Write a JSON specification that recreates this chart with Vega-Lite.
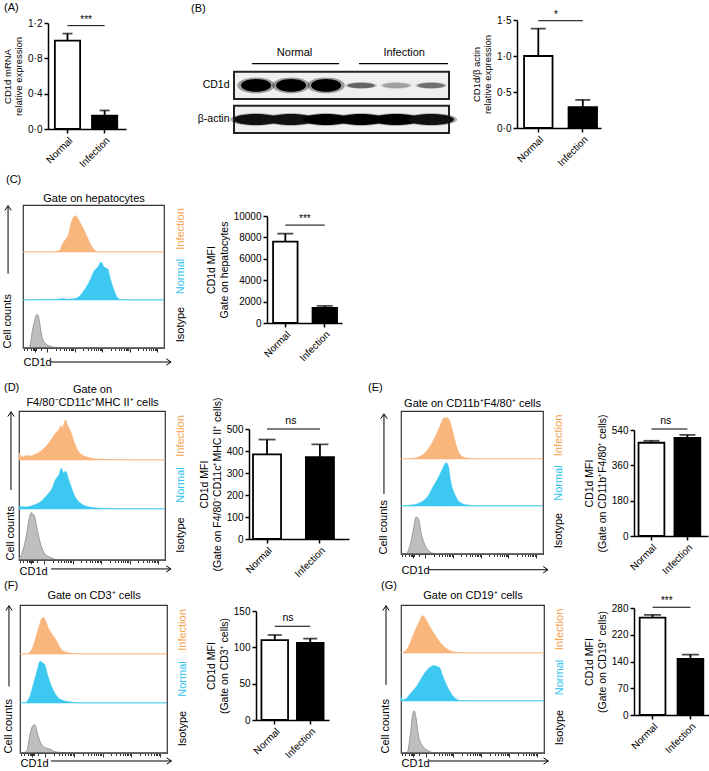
{
"$schema": "https://vega.github.io/schema/vega-lite/v6.json",
"padding": {"left": 0, "top": 1, "right": 0, "bottom": 0},
"background": "white",
"spacing": 0,
"config": {
 "font": "Liberation Sans",
 "view": {"stroke": null},
 "axis": {"grid": false, "tickCount": 60, "labelOverlap": false, "domainColor": "#000", "domainWidth": 1.5, "tickColor": "#000", "tickWidth": 1.5, "tickSize": 4, "labelFontSize": 10, "labelColor": "#000", "titleFontSize": 10.5, "titleFontWeight": "normal", "titleColor": "#000", "labelFont": "Liberation Sans", "titleFont": "Liberation Sans"},
 "title": {"fontSize": 11, "fontWeight": "normal", "anchor": "start", "frame": "group", "color": "#000", "font": "Liberation Sans"},
 "text": {"font": "Liberation Sans", "color": "#000"}
},
"vconcat": [
{"spacing": 0, "bounds": "flush", "hconcat": [
 {"width": 47, "height": 1, "data": {"values": []}, "mark": "point"},
 {
  "width": 78, "height": 109,
  "title": {"text": "(A)", "dx": -44, "offset": 2},
  "layer": [
   {"data": {"values": [{"group": "Normal", "mean": 1.0, "upper": 1.08}, {"group": "Infection", "mean": 0.15, "upper": 0.21}]},
    "layer": [
     {"mark": {"type": "bar", "stroke": "#000", "strokeWidth": 1.8},
      "encoding": {
       "x": {"field": "group", "type": "nominal", "scale": {"domain": ["Normal", "Infection"], "paddingInner": 0.32, "paddingOuter": 0.21, "align": 0.44}, "axis": {"title": null, "labelAngle": -45}},
       "y": {"field": "mean", "type": "quantitative", "scale": {"domain": [0, 1.2], "range": [109, 3], "nice": false}, "axis": {"values": [0, 0.4, 0.8, 1.2], "tickCount": 10, "labelExpr": "replace(format(datum.value, '.1f'), '.', '·')", "title": ["CD1d mRNA", "relative expression"], "titleFontSize": 9.5}},
       "fill": {"field": "group", "type": "nominal", "scale": {"domain": ["Normal", "Infection"], "range": ["#ffffff", "#000000"]}, "legend": null}}},
     {"mark": {"type": "rule", "strokeWidth": 1.8, "color": "#000"}, "encoding": {"x": {"field": "group", "type": "nominal"}, "y": {"field": "mean", "type": "quantitative"}, "y2": {"field": "upper"}}},
     {"mark": {"type": "tick", "thickness": 1.8, "size": 10, "color": "#000"}, "encoding": {"x": {"field": "group", "type": "nominal"}, "y": {"field": "upper", "type": "quantitative"}}}
    ]},
   {"data": {"values": [{"from": "Normal", "to": "Infection", "level": 1.17, "label": "***"}]},
    "layer": [
     {"mark": {"type": "rule", "strokeWidth": 1, "color": "#000"}, "encoding": {"x": {"field": "from", "type": "nominal"}, "x2": {"field": "to"}, "y": {"field": "level", "type": "quantitative"}}},
     {"mark": {"type": "text", "baseline": "bottom", "dy": -1, "fontSize": 10}, "encoding": {"x": {"field": "from", "type": "nominal", "bandPosition": 1.24}, "y": {"field": "level", "type": "quantitative"}, "text": {"field": "label"}}}
    ]}
  ]
 },
 {"width": 108, "height": 1, "data": {"values": []}, "mark": "point"},
 {
  "width": 215, "height": 113,
  "title": {"text": "(B)", "dx": -43, "offset": 6},
  "layer": [
   {"data": {"values": [{"protein": "CD1d"}, {"protein": "β-actin"}]},
    "mark": {"type": "rect", "fill": "#efefef", "stroke": "#222", "strokeWidth": 2},
    "encoding": {
     "x": {"datum": 0.37, "type": "quantitative", "scale": {"domain": [0.37, 6.51], "nice": false, "zero": false}, "axis": null},
     "x2": {"datum": 6.51},
     "y": {"field": "protein", "type": "nominal", "scale": {"domain": ["header", "CD1d", "β-actin"], "paddingInner": 0.2, "paddingOuter": 0.262, "align": 1}, "axis": {"title": null, "domain": false, "ticks": false, "labelPadding": 5, "labelFontSize": 10.5, "labelExpr": "datum.value == 'header' ? '' : datum.value"}}}},
   {"data": {"values": [
     {"protein": "CD1d", "lane": 1, "kind": "strong", "intensity": 1}, {"protein": "CD1d", "lane": 2, "kind": "strong", "intensity": 1}, {"protein": "CD1d", "lane": 3, "kind": "strong", "intensity": 1},
     {"protein": "CD1d", "lane": 4, "kind": "faint", "intensity": 0.55}, {"protein": "CD1d", "lane": 5, "kind": "faint", "intensity": 0.3}, {"protein": "CD1d", "lane": 6, "kind": "faint", "intensity": 0.5},
     {"protein": "β-actin", "lane": 1, "kind": "actin", "intensity": 0.95}, {"protein": "β-actin", "lane": 2, "kind": "actin", "intensity": 0.95}, {"protein": "β-actin", "lane": 3, "kind": "actin", "intensity": 1},
     {"protein": "β-actin", "lane": 4, "kind": "actin", "intensity": 1}, {"protein": "β-actin", "lane": 5, "kind": "actin", "intensity": 1}, {"protein": "β-actin", "lane": 6, "kind": "actin", "intensity": 0.95}]},
    "encoding": {
     "x": {"field": "lane", "type": "quantitative"},
     "y": {"field": "protein", "type": "nominal"},
     "color": {"field": "intensity", "type": "quantitative", "scale": {"domain": [0, 1], "range": ["#efefef", "#000000"]}, "legend": null}},
    "layer": [
     {"transform": [{"filter": "datum.kind == 'strong'"}], "mark": {"type": "point", "filled": true, "opacity": 0.35, "size": 1400, "shape": "M-1,0A1,0.42,0,1,0,1,0A1,0.42,0,1,0,-1,0Z"}},
     {"transform": [{"filter": "datum.kind == 'strong'"}], "mark": {"type": "point", "filled": true, "opacity": 1, "size": 900, "shape": "M-1,0A1,0.42,0,1,0,1,0A1,0.42,0,1,0,-1,0Z"}},
     {"transform": [{"filter": "datum.kind == 'faint'"}], "mark": {"type": "point", "filled": true, "opacity": 0.35, "size": 1000, "shape": "M-1,0A1,0.2,0,1,0,1,0A1,0.2,0,1,0,-1,0Z"}},
     {"transform": [{"filter": "datum.kind == 'faint'"}], "mark": {"type": "point", "filled": true, "opacity": 1, "size": 750, "shape": "M-1,0A1,0.2,0,1,0,1,0A1,0.2,0,1,0,-1,0Z"}},
     {"transform": [{"filter": "datum.kind == 'actin'"}], "mark": {"type": "point", "filled": true, "opacity": 0.35, "size": 2700, "shape": "M-1,0A1,0.24,0,1,0,1,0A1,0.24,0,1,0,-1,0Z"}},
     {"transform": [{"filter": "datum.kind == 'actin'"}], "mark": {"type": "point", "filled": true, "opacity": 1, "size": 2100, "shape": "M-1,0A1,0.24,0,1,0,1,0A1,0.24,0,1,0,-1,0Z"}}
    ]},
   {"data": {"values": [{"group": "Normal", "from": 0.88, "to": 3.37, "mid": 2.1}, {"group": "Infection", "from": 3.94, "to": 6.48, "mid": 5.23}]},
    "layer": [
     {"mark": {"type": "rule", "strokeWidth": 1.2, "color": "#000"}, "encoding": {"x": {"field": "from", "type": "quantitative"}, "x2": {"field": "to"}, "y": {"datum": "header", "type": "nominal", "bandPosition": 0.95}}},
     {"mark": {"type": "text", "fontSize": 11, "baseline": "middle"}, "encoding": {"x": {"field": "mid", "type": "quantitative"}, "y": {"datum": "header", "type": "nominal", "bandPosition": 0.55}, "text": {"field": "group"}}}
    ]}
  ]
 },
 {"width": 68, "height": 1, "data": {"values": []}, "mark": "point"},
 {
  "width": 84, "height": 108,
  "layer": [
   {"data": {"values": [{"group": "Normal", "mean": 1.0, "upper": 1.38}, {"group": "Infection", "mean": 0.29, "upper": 0.39}]},
    "layer": [
     {"mark": {"type": "bar", "stroke": "#000", "strokeWidth": 1.8},
      "encoding": {
       "x": {"field": "group", "type": "nominal", "scale": {"domain": ["Normal", "Infection"], "paddingInner": 0.36, "paddingOuter": 0.124, "align": 0.64}, "axis": {"title": null, "labelAngle": -45}},
       "y": {"field": "mean", "type": "quantitative", "scale": {"domain": [0, 1.5], "nice": false}, "axis": {"values": [0, 0.5, 1, 1.5], "tickCount": 10, "labelExpr": "replace(format(datum.value, '.1f'), '.', '·')", "title": ["CD1d/β actin", "relative expression"], "titleFontSize": 9.5}},
       "fill": {"field": "group", "type": "nominal", "scale": {"domain": ["Normal", "Infection"], "range": ["#ffffff", "#000000"]}, "legend": null}}},
     {"mark": {"type": "rule", "strokeWidth": 1.8, "color": "#000"}, "encoding": {"x": {"field": "group", "type": "nominal"}, "y": {"field": "mean", "type": "quantitative"}, "y2": {"field": "upper"}}},
     {"mark": {"type": "tick", "thickness": 1.8, "size": 15, "color": "#000"}, "encoding": {"x": {"field": "group", "type": "nominal"}, "y": {"field": "upper", "type": "quantitative"}}}
    ]},
   {"data": {"values": [{"from": "Normal", "to": "Infection", "level": 1.49, "label": "*"}]},
    "layer": [
     {"mark": {"type": "rule", "strokeWidth": 1, "color": "#000"}, "encoding": {"x": {"field": "from", "type": "nominal"}, "x2": {"field": "to"}, "y": {"field": "level", "type": "quantitative"}}},
     {"mark": {"type": "text", "baseline": "bottom", "dy": -1, "fontSize": 10}, "encoding": {"x": {"field": "from", "type": "nominal", "bandPosition": 1.12}, "y": {"field": "level", "type": "quantitative"}, "text": {"field": "label"}}}
    ]}
  ]
 },
 {"width": 1, "height": 153, "data": {"values": []}, "mark": "point"}
]},

{"spacing": 0, "bounds": "flush", "hconcat": [
 {"width": 22, "height": 1, "data": {"values": []}, "mark": "point"},
 {
  "width": 141, "height": 143,
  "view": {"stroke": "#333", "strokeWidth": 1.2},
  "title": {"text": "(C)", "dx": -17, "offset": 7},
  "resolve": {"scale": {"y": "independent"}, "axis": {"x": "independent", "y": "independent"}},
  "layer": [
   {"data": {"values": [{"cd1d": 0, "count": 0.005}, {"cd1d": 20, "count": 0.005}, {"cd1d": 26, "count": 0.03}, {"cd1d": 28, "count": 0.17}, {"cd1d": 30, "count": 0.26}, {"cd1d": 32, "count": 0.35}, {"cd1d": 34, "count": 0.6}, {"cd1d": 36, "count": 0.75}, {"cd1d": 37.6, "count": 0.77}, {"cd1d": 39, "count": 0.71}, {"cd1d": 41.6, "count": 0.57}, {"cd1d": 44.7, "count": 0.38}, {"cd1d": 47.8, "count": 0.17}, {"cd1d": 50.6, "count": 0.05}, {"cd1d": 53, "count": 0.01}, {"cd1d": 60, "count": 0.005}, {"cd1d": 100, "count": 0.005}]},
    "mark": {"type": "area", "interpolate": "monotone", "fill": "#F8B57C", "stroke": "#F8B57C", "strokeWidth": 1, "strokeOpacity": 0.55},
    "encoding": {
     "x": {"field": "cd1d", "type": "quantitative", "scale": {"domain": [0, 100], "nice": false, "zero": false}, "axis": {"orient": "top", "title": "Gate on hepatocytes", "labels": false, "ticks": false, "domain": false, "titlePadding": 2, "titleFontSize": 11}},
     "y": {"field": "count", "type": "quantitative", "scale": {"domain": [0, 1], "range": [47, 0], "nice": false}, "axis": {"orient": "right", "title": "Infection", "titleColor": "#F5A24C", "titleAngle": 270, "titleBaseline": "top", "titleFontSize": 11, "labels": false, "ticks": false, "domain": false, "titlePadding": 10}}}},
   {"data": {"values": [{"cd1d": 0, "count": 0.005}, {"cd1d": 15, "count": 0.01}, {"cd1d": 25, "count": 0.015}, {"cd1d": 28, "count": 0.03}, {"cd1d": 31, "count": 0.015}, {"cd1d": 37, "count": 0.03}, {"cd1d": 40, "count": 0.08}, {"cd1d": 44.7, "count": 0.26}, {"cd1d": 48, "count": 0.44}, {"cd1d": 50.6, "count": 0.61}, {"cd1d": 53, "count": 0.68}, {"cd1d": 55.3, "count": 0.79}, {"cd1d": 57.6, "count": 0.68}, {"cd1d": 60, "count": 0.65}, {"cd1d": 62, "count": 0.44}, {"cd1d": 64.7, "count": 0.19}, {"cd1d": 67, "count": 0.05}, {"cd1d": 69, "count": 0.01}, {"cd1d": 75, "count": 0.005}, {"cd1d": 100, "count": 0.005}]},
    "mark": {"type": "area", "interpolate": "monotone", "fill": "#3CC8F0", "stroke": "#3CC8F0", "strokeWidth": 1, "strokeOpacity": 0.55},
    "encoding": {
     "x": {"field": "cd1d", "type": "quantitative", "axis": null},
     "y": {"field": "count", "type": "quantitative", "scale": {"domain": [0, 1], "range": [95, 47], "nice": false}, "axis": {"orient": "right", "title": "Normal", "titleColor": "#2EC3EE", "titleAngle": 270, "titleBaseline": "top", "titleFontSize": 11, "labels": false, "ticks": false, "domain": false, "titlePadding": 10}}}},
   {"data": {"values": [{"cd1d": 0, "count": 0}, {"cd1d": 4, "count": 0.01}, {"cd1d": 4.7, "count": 0.02}, {"cd1d": 6.4, "count": 0.32}, {"cd1d": 8.2, "count": 0.56}, {"cd1d": 9.9, "count": 0.7}, {"cd1d": 11, "count": 0.65}, {"cd1d": 12.5, "count": 0.39}, {"cd1d": 14, "count": 0.18}, {"cd1d": 16.5, "count": 0.08}, {"cd1d": 20, "count": 0.03}, {"cd1d": 22, "count": 0.01}, {"cd1d": 30, "count": 0}, {"cd1d": 100, "count": 0}]},
    "mark": {"type": "area", "interpolate": "monotone", "fill": "#BEBEBE", "stroke": "#9A9A9A", "strokeWidth": 1},
    "encoding": {
     "x": {"field": "cd1d", "type": "quantitative", "axis": {"orient": "bottom", "values": [1, 3, 5.4, 7, 7.6, 8.2, 8.8, 9.4, 12.5, 17.2, 23.1, 26.5, 28.9, 30.8, 32.4, 33.7, 34.8, 35.8, 36.7, 42.6, 46, 48.4, 50.3, 51.9, 53.2, 54.3, 55.3, 56.2, 62.1, 65.5, 67.9, 69.8, 71.4, 72.7, 73.8, 74.8, 75.7, 81.6, 85, 87.4, 89.3, 90.9, 92.2, 93.3, 94.3, 95.2], "labels": false, "domain": false, "tickColor": "#333", "tickWidth": 1, "tickSize": {"condition": {"test": "indexof([8.2,17.2,36.7,56.2,75.7,95.2], datum.value) >= 0", "value": 4}, "value": 2.5}, "title": "CD1d", "titleAnchor": "start", "titlePadding": 4, "titleFontSize": 11}},
     "y": {"field": "count", "type": "quantitative", "scale": {"domain": [0, 1], "range": [143, 95], "nice": false}, "axis": {"orient": "left", "title": "Cell counts", "titleAnchor": "start", "labels": false, "ticks": false, "domain": false, "titlePadding": 11, "titleFontSize": 11}}}},
   {"data": {"values": [{}]},
    "mark": {"type": "rule", "color": "#333", "strokeWidth": 1},
    "encoding": {"y": {"datum": 0, "type": "quantitative", "scale": {"domain": [0, 1], "range": [143, 95], "nice": false}, "axis": {"orient": "right", "title": "Isotype", "titleAngle": 270, "titleBaseline": "top", "titleFontSize": 11, "labels": false, "ticks": false, "domain": false, "titlePadding": 10}}}},
   {"data": {"values": [{}]}, "mark": {"type": "rule", "color": "#000", "strokeWidth": 1},
    "encoding": {"x": {"datum": -10.6, "type": "quantitative", "scale": {"domain": [0, 100]}, "axis": null}, "y": {"datum": 0.52, "type": "quantitative", "scale": {"domain": [0, 1], "range": [143, 0], "nice": false}, "axis": null}, "y2": {"datum": 0.995}}},
   {"data": {"values": [{}]}, "mark": {"type": "point", "shape": "M-1,1.5L0,0L1,1.5", "filled": false, "stroke": "#000", "strokeWidth": 1, "size": 40, "opacity": 1},
    "encoding": {"x": {"datum": -10.6, "type": "quantitative", "scale": {"domain": [0, 100]}, "axis": null}, "y": {"datum": 0.995, "type": "quantitative", "scale": {"domain": [0, 1], "range": [143, 0], "nice": false}, "axis": null}}},
   {"data": {"values": [{}]}, "mark": {"type": "rule", "color": "#000", "strokeWidth": 1},
    "encoding": {"x": {"datum": 19.9, "type": "quantitative", "scale": {"domain": [0, 100]}, "axis": null}, "x2": {"datum": 105}, "y": {"datum": -0.098, "type": "quantitative", "scale": {"domain": [0, 1], "range": [143, 0], "nice": false}, "axis": null}}},
   {"data": {"values": [{}]}, "mark": {"type": "point", "shape": "M-1.5,-1L0,0L-1.5,1", "filled": false, "stroke": "#000", "strokeWidth": 1, "size": 40, "opacity": 1},
    "encoding": {"x": {"datum": 105, "type": "quantitative", "scale": {"domain": [0, 100]}, "axis": null}, "y": {"datum": -0.098, "type": "quantitative", "scale": {"domain": [0, 1], "range": [143, 0], "nice": false}, "axis": null}}}
  ]
 },
 {"width": 103, "height": 1, "data": {"values": []}, "mark": "point"},
 {
  "width": 75, "height": 118,
  "layer": [
   {"data": {"values": [{"group": "Normal", "mean": 7600, "upper": 8350}, {"group": "Infection", "mean": 1400, "upper": 1600}]},
    "layer": [
     {"mark": {"type": "bar", "stroke": "#000", "strokeWidth": 1.8},
      "encoding": {
       "x": {"field": "group", "type": "nominal", "scale": {"domain": ["Normal", "Infection"], "paddingInner": 0.38, "paddingOuter": 0.14, "align": 0.55}, "axis": {"title": null, "labelAngle": -45}},
       "y": {"field": "mean", "type": "quantitative", "scale": {"domain": [0, 10000], "range": [118, 11], "nice": false}, "axis": {"values": [0, 2000, 4000, 6000, 8000, 10000], "tickCount": 10, "format": "d", "title": ["CD1d MFI", "Gate on hepatocytes"]}},
       "fill": {"field": "group", "type": "nominal", "scale": {"domain": ["Normal", "Infection"], "range": ["#ffffff", "#000000"]}, "legend": null}}},
     {"mark": {"type": "rule", "strokeWidth": 1.8, "color": "#000"}, "encoding": {"x": {"field": "group", "type": "nominal"}, "y": {"field": "mean", "type": "quantitative"}, "y2": {"field": "upper"}}},
     {"mark": {"type": "tick", "thickness": 1.8, "size": 16, "color": "#000"}, "encoding": {"x": {"field": "group", "type": "nominal"}, "y": {"field": "upper", "type": "quantitative"}}}
    ]},
   {"data": {"values": [{"from": "Normal", "to": "Infection", "level": 9150, "label": "***"}]},
    "layer": [
     {"mark": {"type": "rule", "strokeWidth": 1, "color": "#000"}, "encoding": {"x": {"field": "from", "type": "nominal"}, "x2": {"field": "to"}, "y": {"field": "level", "type": "quantitative"}}},
     {"mark": {"type": "text", "baseline": "bottom", "dy": -1, "fontSize": 10}, "encoding": {"x": {"field": "from", "type": "nominal", "bandPosition": 1.3}, "y": {"field": "level", "type": "quantitative"}, "text": {"field": "label"}}}
    ]}
  ]
 },
 {"width": 1, "height": 176, "data": {"values": []}, "mark": "point"}
]},

{"spacing": 0, "bounds": "flush", "hconcat": [
 {"width": 18, "height": 1, "data": {"values": []}, "mark": "point"},
 {
  "width": 146, "height": 149,
  "view": {"stroke": "#333", "strokeWidth": 1.2},
  "title": {"text": "(D)", "dx": -15, "dy": 14},
  "resolve": {"scale": {"y": "independent"}, "axis": {"x": "independent", "y": "independent"}},
  "layer": [
   {"data": {"values": [{"cd1d": 0, "count": 0.15}, {"cd1d": 2.3, "count": 0.06}, {"cd1d": 5, "count": 0.09}, {"cd1d": 8, "count": 0.08}, {"cd1d": 10, "count": 0.1}, {"cd1d": 14.8, "count": 0.18}, {"cd1d": 19.4, "count": 0.31}, {"cd1d": 22.8, "count": 0.45}, {"cd1d": 25, "count": 0.55}, {"cd1d": 27.4, "count": 0.62}, {"cd1d": 28.5, "count": 0.7}, {"cd1d": 29.7, "count": 0.66}, {"cd1d": 31, "count": 0.76}, {"cd1d": 32, "count": 0.82}, {"cd1d": 33, "count": 0.73}, {"cd1d": 35.4, "count": 0.58}, {"cd1d": 37.7, "count": 0.38}, {"cd1d": 40, "count": 0.21}, {"cd1d": 43.4, "count": 0.1}, {"cd1d": 48, "count": 0.05}, {"cd1d": 53.7, "count": 0.02}, {"cd1d": 67, "count": 0.01}, {"cd1d": 100, "count": 0.005}]},
    "mark": {"type": "area", "interpolate": "monotone", "fill": "#F8B57C", "stroke": "#F8B57C", "strokeWidth": 1, "strokeOpacity": 0.55},
    "encoding": {
     "x": {"field": "cd1d", "type": "quantitative", "scale": {"domain": [0, 100], "nice": false, "zero": false}, "axis": {"orient": "top", "title": ["Gate on", "F4/80⁻CD11c⁺MHC II⁺ cells"], "labels": false, "ticks": false, "domain": false, "titlePadding": 4, "titleFontSize": 11}},
     "y": {"field": "count", "type": "quantitative", "scale": {"domain": [0, 1], "range": [49, 0], "nice": false}, "axis": {"orient": "right", "title": "Infection", "titleColor": "#F5A24C", "titleAngle": 270, "titleBaseline": "top", "titleFontSize": 11, "labels": false, "ticks": false, "domain": false, "titlePadding": 9}}}},
   {"data": {"values": [{"cd1d": 0, "count": 0.05}, {"cd1d": 5, "count": 0.04}, {"cd1d": 10, "count": 0.08}, {"cd1d": 14.8, "count": 0.15}, {"cd1d": 19.4, "count": 0.29}, {"cd1d": 22.8, "count": 0.43}, {"cd1d": 25, "count": 0.6}, {"cd1d": 27.4, "count": 0.7}, {"cd1d": 29, "count": 0.83}, {"cd1d": 30.4, "count": 0.74}, {"cd1d": 32, "count": 0.77}, {"cd1d": 34, "count": 0.6}, {"cd1d": 36.5, "count": 0.39}, {"cd1d": 38.8, "count": 0.23}, {"cd1d": 42, "count": 0.12}, {"cd1d": 46.8, "count": 0.05}, {"cd1d": 53.7, "count": 0.02}, {"cd1d": 60.5, "count": 0.01}, {"cd1d": 100, "count": 0.005}]},
    "mark": {"type": "area", "interpolate": "monotone", "fill": "#3CC8F0", "stroke": "#3CC8F0", "strokeWidth": 1, "strokeOpacity": 0.55},
    "encoding": {
     "x": {"field": "cd1d", "type": "quantitative", "axis": null},
     "y": {"field": "count", "type": "quantitative", "scale": {"domain": [0, 1], "range": [98, 49], "nice": false}, "axis": {"orient": "right", "title": "Normal", "titleColor": "#2EC3EE", "titleAngle": 270, "titleBaseline": "top", "titleFontSize": 11, "labels": false, "ticks": false, "domain": false, "titlePadding": 9}}}},
   {"data": {"values": [{"cd1d": 0, "count": 0.02}, {"cd1d": 2.3, "count": 0.15}, {"cd1d": 4.6, "count": 0.41}, {"cd1d": 6.8, "count": 0.78}, {"cd1d": 8.4, "count": 0.93}, {"cd1d": 9.2, "count": 0.91}, {"cd1d": 10.3, "count": 0.88}, {"cd1d": 12.6, "count": 0.58}, {"cd1d": 14.8, "count": 0.31}, {"cd1d": 18, "count": 0.11}, {"cd1d": 21.7, "count": 0.05}, {"cd1d": 25, "count": 0.01}, {"cd1d": 30, "count": 0}, {"cd1d": 100, "count": 0}]},
    "mark": {"type": "area", "interpolate": "monotone", "fill": "#BEBEBE", "stroke": "#9A9A9A", "strokeWidth": 1},
    "encoding": {
     "x": {"field": "cd1d", "type": "quantitative", "axis": {"orient": "bottom", "values": [1, 3, 5.4, 7, 7.6, 8.2, 8.8, 9.4, 12.5, 17.2, 23.1, 26.5, 28.9, 30.8, 32.4, 33.7, 34.8, 35.8, 36.7, 42.6, 46, 48.4, 50.3, 51.9, 53.2, 54.3, 55.3, 56.2, 62.1, 65.5, 67.9, 69.8, 71.4, 72.7, 73.8, 74.8, 75.7, 81.6, 85, 87.4, 89.3, 90.9, 92.2, 93.3, 94.3, 95.2], "labels": false, "domain": false, "tickColor": "#333", "tickWidth": 1, "tickSize": {"condition": {"test": "indexof([8.2,17.2,36.7,56.2,75.7,95.2], datum.value) >= 0", "value": 4}, "value": 2.5}, "title": "CD1d", "titleAnchor": "start", "titlePadding": 1, "titleFontSize": 11}},
     "y": {"field": "count", "type": "quantitative", "scale": {"domain": [0, 1], "range": [149, 98], "nice": false}, "axis": {"orient": "left", "title": "Cell counts", "titleAnchor": "start", "labels": false, "ticks": false, "domain": false, "titlePadding": 4, "titleFontSize": 11}}}},
   {"data": {"values": [{}]},
    "mark": {"type": "rule", "color": "#333", "strokeWidth": 1},
    "encoding": {"y": {"datum": 0, "type": "quantitative", "scale": {"domain": [0, 1], "range": [149, 98], "nice": false}, "axis": {"orient": "right", "title": "Isotype", "titleAngle": 270, "titleBaseline": "top", "titleFontSize": 11, "labels": false, "ticks": false, "domain": false, "titlePadding": 9}}}},
   {"data": {"values": [{}]}, "mark": {"type": "rule", "color": "#000", "strokeWidth": 1},
    "encoding": {"x": {"datum": -5.5, "type": "quantitative", "scale": {"domain": [0, 100]}, "axis": null}, "y": {"datum": 0.47, "type": "quantitative", "scale": {"domain": [0, 1], "range": [149, 0], "nice": false}, "axis": null}, "y2": {"datum": 0.995}}},
   {"data": {"values": [{}]}, "mark": {"type": "point", "shape": "M-1,1.5L0,0L1,1.5", "filled": false, "stroke": "#000", "strokeWidth": 1, "size": 40, "opacity": 1},
    "encoding": {"x": {"datum": -5.5, "type": "quantitative", "scale": {"domain": [0, 100]}, "axis": null}, "y": {"datum": 0.995, "type": "quantitative", "scale": {"domain": [0, 1], "range": [149, 0], "nice": false}, "axis": null}}},
   {"data": {"values": [{}]}, "mark": {"type": "rule", "color": "#000", "strokeWidth": 1},
    "encoding": {"x": {"datum": 22, "type": "quantitative", "scale": {"domain": [0, 100]}, "axis": null}, "x2": {"datum": 104}, "y": {"datum": -0.06, "type": "quantitative", "scale": {"domain": [0, 1], "range": [149, 0], "nice": false}, "axis": null}}},
   {"data": {"values": [{}]}, "mark": {"type": "point", "shape": "M-1.5,-1L0,0L-1.5,1", "filled": false, "stroke": "#000", "strokeWidth": 1, "size": 40, "opacity": 1},
    "encoding": {"x": {"datum": 104, "type": "quantitative", "scale": {"domain": [0, 100]}, "axis": null}, "y": {"datum": -0.06, "type": "quantitative", "scale": {"domain": [0, 1], "range": [149, 0], "nice": false}, "axis": null}}}
  ]
 },
 {"width": 84, "height": 1, "data": {"values": []}, "mark": "point"},
 {
  "width": 100, "height": 128,
  "layer": [
   {"data": {"values": [{"group": "Normal", "mean": 385, "upper": 452}, {"group": "Infection", "mean": 372, "upper": 430}]},
    "layer": [
     {"mark": {"type": "bar", "stroke": "#000", "strokeWidth": 1.8},
      "encoding": {
       "x": {"field": "group", "type": "nominal", "scale": {"domain": ["Normal", "Infection"], "paddingInner": 0.47, "paddingOuter": 0.18, "align": 0.21}, "axis": {"title": null, "labelAngle": -45}},
       "y": {"field": "mean", "type": "quantitative", "scale": {"domain": [0, 500], "range": [128, 18], "nice": false}, "axis": {"values": [0, 100, 200, 300, 400, 500], "tickCount": 10, "title": ["CD1d MFI", "(Gate on F4/80⁻CD11c⁺MHC II⁺ cells)"]}},
       "fill": {"field": "group", "type": "nominal", "scale": {"domain": ["Normal", "Infection"], "range": ["#ffffff", "#000000"]}, "legend": null}}},
     {"mark": {"type": "rule", "strokeWidth": 1.8, "color": "#000"}, "encoding": {"x": {"field": "group", "type": "nominal"}, "y": {"field": "mean", "type": "quantitative"}, "y2": {"field": "upper"}}},
     {"mark": {"type": "tick", "thickness": 1.8, "size": 17, "color": "#000"}, "encoding": {"x": {"field": "group", "type": "nominal"}, "y": {"field": "upper", "type": "quantitative"}}}
    ]},
   {"data": {"values": [{"from": "Normal", "to": "Infection", "level": 500, "label": "ns"}]},
    "layer": [
     {"mark": {"type": "rule", "strokeWidth": 1, "color": "#000"}, "encoding": {"x": {"field": "from", "type": "nominal"}, "x2": {"field": "to"}, "y": {"field": "level", "type": "quantitative"}}},
     {"mark": {"type": "text", "baseline": "bottom", "dy": -3, "fontSize": 10.5}, "encoding": {"x": {"field": "from", "type": "nominal", "bandPosition": 1.35}, "y": {"field": "level", "type": "quantitative"}, "text": {"field": "label"}}}
    ]}
  ]
 },
 {"width": 52, "height": 1, "data": {"values": []}, "mark": "point"},
 {
  "width": 142, "height": 143,
  "view": {"stroke": "#333", "strokeWidth": 1.2},
  "title": {"text": "(E)", "dx": -33, "offset": 4},
  "resolve": {"scale": {"y": "independent"}, "axis": {"x": "independent", "y": "independent"}},
  "layer": [
   {"data": {"values": [{"cd1d": 0, "count": 0.005}, {"cd1d": 7, "count": 0.01}, {"cd1d": 13, "count": 0.05}, {"cd1d": 17.6, "count": 0.15}, {"cd1d": 21, "count": 0.29}, {"cd1d": 24.7, "count": 0.5}, {"cd1d": 27.8, "count": 0.71}, {"cd1d": 30, "count": 0.85}, {"cd1d": 32.5, "count": 0.86}, {"cd1d": 34, "count": 0.81}, {"cd1d": 36.5, "count": 0.57}, {"cd1d": 38.8, "count": 0.29}, {"cd1d": 41, "count": 0.12}, {"cd1d": 44.7, "count": 0.03}, {"cd1d": 50, "count": 0.01}, {"cd1d": 56, "count": 0.005}, {"cd1d": 100, "count": 0.005}]},
    "mark": {"type": "area", "interpolate": "monotone", "fill": "#F8B57C", "stroke": "#F8B57C", "strokeWidth": 1, "strokeOpacity": 0.55},
    "encoding": {
     "x": {"field": "cd1d", "type": "quantitative", "scale": {"domain": [0, 100], "nice": false, "zero": false}, "axis": {"orient": "top", "title": "Gate on CD11b⁺F4/80⁺ cells", "labels": false, "ticks": false, "domain": false, "titlePadding": 3, "titleFontSize": 11}},
     "y": {"field": "count", "type": "quantitative", "scale": {"domain": [0, 1], "range": [48, 0], "nice": false}, "axis": {"orient": "right", "title": "Infection", "titleColor": "#F5A24C", "titleAngle": 270, "titleBaseline": "top", "titleFontSize": 11, "labels": false, "ticks": false, "domain": false, "titlePadding": 9}}}},
   {"data": {"values": [{"cd1d": 0, "count": 0.005}, {"cd1d": 7, "count": 0.02}, {"cd1d": 14, "count": 0.08}, {"cd1d": 18.8, "count": 0.2}, {"cd1d": 22, "count": 0.38}, {"cd1d": 26, "count": 0.59}, {"cd1d": 29.4, "count": 0.8}, {"cd1d": 31.8, "count": 0.92}, {"cd1d": 33.4, "count": 0.84}, {"cd1d": 35, "count": 0.52}, {"cd1d": 37.6, "count": 0.27}, {"cd1d": 41, "count": 0.09}, {"cd1d": 47, "count": 0.02}, {"cd1d": 55, "count": 0.005}, {"cd1d": 100, "count": 0.005}]},
    "mark": {"type": "area", "interpolate": "monotone", "fill": "#3CC8F0", "stroke": "#3CC8F0", "strokeWidth": 1, "strokeOpacity": 0.55},
    "encoding": {
     "x": {"field": "cd1d", "type": "quantitative", "axis": null},
     "y": {"field": "count", "type": "quantitative", "scale": {"domain": [0, 1], "range": [95, 48], "nice": false}, "axis": {"orient": "right", "title": "Normal", "titleColor": "#2EC3EE", "titleAngle": 270, "titleBaseline": "top", "titleFontSize": 11, "labels": false, "ticks": false, "domain": false, "titlePadding": 9}}}},
   {"data": {"values": [{"cd1d": 0, "count": 0}, {"cd1d": 4, "count": 0.01}, {"cd1d": 4.7, "count": 0.04}, {"cd1d": 7, "count": 0.25}, {"cd1d": 9, "count": 0.56}, {"cd1d": 10.6, "count": 0.77}, {"cd1d": 12.2, "count": 0.74}, {"cd1d": 14, "count": 0.46}, {"cd1d": 16.5, "count": 0.21}, {"cd1d": 18.8, "count": 0.09}, {"cd1d": 22, "count": 0.02}, {"cd1d": 26, "count": 0}, {"cd1d": 100, "count": 0}]},
    "mark": {"type": "area", "interpolate": "monotone", "fill": "#BEBEBE", "stroke": "#9A9A9A", "strokeWidth": 1},
    "encoding": {
     "x": {"field": "cd1d", "type": "quantitative", "axis": {"orient": "bottom", "values": [1, 3, 5.4, 7, 7.6, 8.2, 8.8, 9.4, 12.5, 17.2, 23.1, 26.5, 28.9, 30.8, 32.4, 33.7, 34.8, 35.8, 36.7, 42.6, 46, 48.4, 50.3, 51.9, 53.2, 54.3, 55.3, 56.2, 62.1, 65.5, 67.9, 69.8, 71.4, 72.7, 73.8, 74.8, 75.7, 81.6, 85, 87.4, 89.3, 90.9, 92.2, 93.3, 94.3, 95.2], "labels": false, "domain": false, "tickColor": "#333", "tickWidth": 1, "tickSize": {"condition": {"test": "indexof([8.2,17.2,36.7,56.2,75.7,95.2], datum.value) >= 0", "value": 4}, "value": 2.5}, "title": "CD1d", "titleAnchor": "start", "titlePadding": 6, "titleFontSize": 11}},
     "y": {"field": "count", "type": "quantitative", "scale": {"domain": [0, 1], "range": [143, 95], "nice": false}, "axis": {"orient": "left", "title": "Cell counts", "titleAnchor": "start", "labels": false, "ticks": false, "domain": false, "titlePadding": 13, "titleFontSize": 11}}}},
   {"data": {"values": [{}]},
    "mark": {"type": "rule", "color": "#333", "strokeWidth": 1},
    "encoding": {"y": {"datum": 0, "type": "quantitative", "scale": {"domain": [0, 1], "range": [143, 95], "nice": false}, "axis": {"orient": "right", "title": "Isotype", "titleAngle": 270, "titleBaseline": "top", "titleFontSize": 11, "labels": false, "ticks": false, "domain": false, "titlePadding": 9}}}},
   {"data": {"values": [{}]}, "mark": {"type": "rule", "color": "#000", "strokeWidth": 1},
    "encoding": {"x": {"datum": -12, "type": "quantitative", "scale": {"domain": [0, 100]}, "axis": null}, "y": {"datum": 0.42, "type": "quantitative", "scale": {"domain": [0, 1], "range": [143, 0], "nice": false}, "axis": null}, "y2": {"datum": 0.98}}},
   {"data": {"values": [{}]}, "mark": {"type": "point", "shape": "M-1,1.5L0,0L1,1.5", "filled": false, "stroke": "#000", "strokeWidth": 1, "size": 40, "opacity": 1},
    "encoding": {"x": {"datum": -12, "type": "quantitative", "scale": {"domain": [0, 100]}, "axis": null}, "y": {"datum": 0.98, "type": "quantitative", "scale": {"domain": [0, 1], "range": [143, 0], "nice": false}, "axis": null}}},
   {"data": {"values": [{}]}, "mark": {"type": "rule", "color": "#000", "strokeWidth": 1},
    "encoding": {"x": {"datum": 19.7, "type": "quantitative", "scale": {"domain": [0, 100]}, "axis": null}, "x2": {"datum": 103.5}, "y": {"datum": -0.11, "type": "quantitative", "scale": {"domain": [0, 1], "range": [143, 0], "nice": false}, "axis": null}}},
   {"data": {"values": [{}]}, "mark": {"type": "point", "shape": "M-1.5,-1L0,0L-1.5,1", "filled": false, "stroke": "#000", "strokeWidth": 1, "size": 40, "opacity": 1},
    "encoding": {"x": {"datum": 103.5, "type": "quantitative", "scale": {"domain": [0, 100]}, "axis": null}, "y": {"datum": -0.11, "type": "quantitative", "scale": {"domain": [0, 1], "range": [143, 0], "nice": false}, "axis": null}}}
  ]
 },
 {"width": 91, "height": 1, "data": {"values": []}, "mark": "point"},
 {
  "width": 74, "height": 125,
  "layer": [
   {"data": {"values": [{"group": "Normal", "mean": 475, "upper": 485}, {"group": "Infection", "mean": 500, "upper": 515}]},
    "layer": [
     {"mark": {"type": "bar", "stroke": "#000", "strokeWidth": 1.8},
      "encoding": {
       "x": {"field": "group", "type": "nominal", "scale": {"domain": ["Normal", "Infection"], "paddingInner": 0.28, "paddingOuter": 0.17, "align": 0.37}, "axis": {"title": null, "labelAngle": -45}},
       "y": {"field": "mean", "type": "quantitative", "scale": {"domain": [0, 540], "range": [125, 19], "nice": false}, "axis": {"values": [0, 180, 360, 540], "tickCount": 10, "title": ["CD1d MFI", "(Gate on  CD11b⁺F4/80⁺ cells)"]}},
       "fill": {"field": "group", "type": "nominal", "scale": {"domain": ["Normal", "Infection"], "range": ["#ffffff", "#231815"]}, "legend": null}}},
     {"mark": {"type": "rule", "strokeWidth": 1.8, "color": "#000"}, "encoding": {"x": {"field": "group", "type": "nominal"}, "y": {"field": "mean", "type": "quantitative"}, "y2": {"field": "upper"}}},
     {"mark": {"type": "tick", "thickness": 1.8, "size": 16, "color": "#000"}, "encoding": {"x": {"field": "group", "type": "nominal"}, "y": {"field": "upper", "type": "quantitative"}}}
    ]},
   {"data": {"values": [{"from": "Normal", "to": "Infection", "level": 545, "label": "ns"}]},
    "layer": [
     {"mark": {"type": "rule", "strokeWidth": 1, "color": "#000"}, "encoding": {"x": {"field": "from", "type": "nominal"}, "x2": {"field": "to"}, "y": {"field": "level", "type": "quantitative"}}},
     {"mark": {"type": "text", "baseline": "bottom", "dy": -3, "fontSize": 10.5}, "encoding": {"x": {"field": "from", "type": "nominal", "bandPosition": 1.05}, "y": {"field": "level", "type": "quantitative"}, "text": {"field": "label"}}}
    ]}
  ]
 },
 {"width": 1, "height": 168, "data": {"values": []}, "mark": "point"}
]},

{"spacing": 0, "bounds": "flush", "hconcat": [
 {"width": 19, "height": 1, "data": {"values": []}, "mark": "point"},
 {
  "width": 147, "height": 148,
  "view": {"stroke": "#333", "strokeWidth": 1.2},
  "title": {"text": "(F)", "dx": -16, "dy": 6},
  "resolve": {"scale": {"y": "independent"}, "axis": {"x": "independent", "y": "independent"}},
  "layer": [
   {"data": {"values": [{"cd1d": 0, "count": 0.005}, {"cd1d": 5, "count": 0.005}, {"cd1d": 6.2, "count": 0.02}, {"cd1d": 8.4, "count": 0.12}, {"cd1d": 10.7, "count": 0.33}, {"cd1d": 13, "count": 0.57}, {"cd1d": 14.6, "count": 0.71}, {"cd1d": 16, "count": 0.75}, {"cd1d": 17.5, "count": 0.67}, {"cd1d": 19.8, "count": 0.5}, {"cd1d": 22, "count": 0.4}, {"cd1d": 24.4, "count": 0.29}, {"cd1d": 26.7, "count": 0.16}, {"cd1d": 30, "count": 0.05}, {"cd1d": 37, "count": 0.01}, {"cd1d": 45, "count": 0.005}, {"cd1d": 100, "count": 0.005}]},
    "mark": {"type": "area", "interpolate": "monotone", "fill": "#F8B57C", "stroke": "#F8B57C", "strokeWidth": 1, "strokeOpacity": 0.55},
    "encoding": {
     "x": {"field": "cd1d", "type": "quantitative", "scale": {"domain": [0, 100], "nice": false, "zero": false}, "axis": {"orient": "top", "title": "Gate on CD3⁺ cells", "labels": false, "ticks": false, "domain": false, "titlePadding": 5, "titleFontSize": 11}},
     "y": {"field": "count", "type": "quantitative", "scale": {"domain": [0, 1], "range": [49, 0], "nice": false}, "axis": {"orient": "right", "title": "Infection", "titleColor": "#F5A24C", "titleAngle": 270, "titleBaseline": "top", "titleFontSize": 11, "labels": false, "ticks": false, "domain": false, "titlePadding": 9}}}},
   {"data": {"values": [{"cd1d": 0, "count": 0.005}, {"cd1d": 3.9, "count": 0.01}, {"cd1d": 6.2, "count": 0.1}, {"cd1d": 9.6, "count": 0.44}, {"cd1d": 11.8, "count": 0.68}, {"cd1d": 13.7, "count": 0.85}, {"cd1d": 15.3, "count": 0.82}, {"cd1d": 16.9, "count": 0.78}, {"cd1d": 18.7, "count": 0.58}, {"cd1d": 21, "count": 0.37}, {"cd1d": 24.4, "count": 0.17}, {"cd1d": 27.8, "count": 0.07}, {"cd1d": 34.6, "count": 0.02}, {"cd1d": 40, "count": 0.005}, {"cd1d": 100, "count": 0.005}]},
    "mark": {"type": "area", "interpolate": "monotone", "fill": "#3CC8F0", "stroke": "#3CC8F0", "strokeWidth": 1, "strokeOpacity": 0.55},
    "encoding": {
     "x": {"field": "cd1d", "type": "quantitative", "axis": null},
     "y": {"field": "count", "type": "quantitative", "scale": {"domain": [0, 1], "range": [98, 49], "nice": false}, "axis": {"orient": "right", "title": "Normal", "titleColor": "#2EC3EE", "titleAngle": 270, "titleBaseline": "top", "titleFontSize": 11, "labels": false, "ticks": false, "domain": false, "titlePadding": 9}}}},
   {"data": {"values": [{"cd1d": 0, "count": 0}, {"cd1d": 4, "count": 0.02}, {"cd1d": 5, "count": 0.07}, {"cd1d": 6.8, "count": 0.37}, {"cd1d": 8.4, "count": 0.53}, {"cd1d": 10, "count": 0.57}, {"cd1d": 11.8, "count": 0.4}, {"cd1d": 14, "count": 0.2}, {"cd1d": 17.5, "count": 0.1}, {"cd1d": 21, "count": 0.07}, {"cd1d": 23, "count": 0.03}, {"cd1d": 28, "count": 0.01}, {"cd1d": 35, "count": 0}, {"cd1d": 100, "count": 0}]},
    "mark": {"type": "area", "interpolate": "monotone", "fill": "#BEBEBE", "stroke": "#9A9A9A", "strokeWidth": 1},
    "encoding": {
     "x": {"field": "cd1d", "type": "quantitative", "axis": {"orient": "bottom", "values": [1, 3, 5.4, 7, 7.6, 8.2, 8.8, 9.4, 12.5, 17.2, 23.1, 26.5, 28.9, 30.8, 32.4, 33.7, 34.8, 35.8, 36.7, 42.6, 46, 48.4, 50.3, 51.9, 53.2, 54.3, 55.3, 56.2, 62.1, 65.5, 67.9, 69.8, 71.4, 72.7, 73.8, 74.8, 75.7, 81.6, 85, 87.4, 89.3, 90.9, 92.2, 93.3, 94.3, 95.2], "labels": false, "domain": false, "tickColor": "#333", "tickWidth": 1, "tickSize": {"condition": {"test": "indexof([8.2,17.2,36.7,56.2,75.7,95.2], datum.value) >= 0", "value": 4}, "value": 2.5}, "title": "CD1d", "titleAnchor": "start", "titlePadding": 0, "titleFontSize": 11}},
     "y": {"field": "count", "type": "quantitative", "scale": {"domain": [0, 1], "range": [148, 98], "nice": false}, "axis": {"orient": "left", "title": "Cell counts", "titleAnchor": "start", "labels": false, "ticks": false, "domain": false, "titlePadding": 7, "titleFontSize": 11}}}},
   {"data": {"values": [{}]},
    "mark": {"type": "rule", "color": "#333", "strokeWidth": 1},
    "encoding": {"y": {"datum": 0, "type": "quantitative", "scale": {"domain": [0, 1], "range": [148, 98], "nice": false}, "axis": {"orient": "right", "title": "Isotype", "titleAngle": 270, "titleBaseline": "top", "titleFontSize": 11, "labels": false, "ticks": false, "domain": false, "titlePadding": 9}}}},
   {"data": {"values": [{}]}, "mark": {"type": "rule", "color": "#000", "strokeWidth": 1},
    "encoding": {"x": {"datum": -7.5, "type": "quantitative", "scale": {"domain": [0, 100]}, "axis": null}, "y": {"datum": 0.45, "type": "quantitative", "scale": {"domain": [0, 1], "range": [148, 0], "nice": false}, "axis": null}, "y2": {"datum": 0.995}}},
   {"data": {"values": [{}]}, "mark": {"type": "point", "shape": "M-1,1.5L0,0L1,1.5", "filled": false, "stroke": "#000", "strokeWidth": 1, "size": 40, "opacity": 1},
    "encoding": {"x": {"datum": -7.5, "type": "quantitative", "scale": {"domain": [0, 100]}, "axis": null}, "y": {"datum": 0.995, "type": "quantitative", "scale": {"domain": [0, 1], "range": [148, 0], "nice": false}, "axis": null}}},
   {"data": {"values": [{}]}, "mark": {"type": "rule", "color": "#000", "strokeWidth": 1},
    "encoding": {"x": {"datum": 21, "type": "quantitative", "scale": {"domain": [0, 100]}, "axis": null}, "x2": {"datum": 103}, "y": {"datum": -0.054, "type": "quantitative", "scale": {"domain": [0, 1], "range": [148, 0], "nice": false}, "axis": null}}},
   {"data": {"values": [{}]}, "mark": {"type": "point", "shape": "M-1.5,-1L0,0L-1.5,1", "filled": false, "stroke": "#000", "strokeWidth": 1, "size": 40, "opacity": 1},
    "encoding": {"x": {"datum": 103, "type": "quantitative", "scale": {"domain": [0, 100]}, "axis": null}, "y": {"datum": -0.054, "type": "quantitative", "scale": {"domain": [0, 1], "range": [148, 0], "nice": false}, "axis": null}}}
  ]
 },
 {"width": 89, "height": 1, "data": {"values": []}, "mark": "point"},
 {
  "width": 73, "height": 115,
  "layer": [
   {"data": {"values": [{"group": "Normal", "mean": 110, "upper": 117}, {"group": "Infection", "mean": 106, "upper": 112}]},
    "layer": [
     {"mark": {"type": "bar", "stroke": "#000", "strokeWidth": 1.8},
      "encoding": {
       "x": {"field": "group", "type": "nominal", "scale": {"domain": ["Normal", "Infection"], "paddingInner": 0.25, "paddingOuter": 0.153, "align": 0.5}, "axis": {"title": null, "labelAngle": -45}},
       "y": {"field": "mean", "type": "quantitative", "scale": {"domain": [0, 150], "range": [115, 6], "nice": false}, "axis": {"values": [0, 50, 100, 150], "tickCount": 10, "title": ["CD1d MFI", "(Gate on CD3⁺ cells)"]}},
       "fill": {"field": "group", "type": "nominal", "scale": {"domain": ["Normal", "Infection"], "range": ["#ffffff", "#000000"]}, "legend": null}}},
     {"mark": {"type": "rule", "strokeWidth": 1.8, "color": "#000"}, "encoding": {"x": {"field": "group", "type": "nominal"}, "y": {"field": "mean", "type": "quantitative"}, "y2": {"field": "upper"}}},
     {"mark": {"type": "tick", "thickness": 1.8, "size": 14, "color": "#000"}, "encoding": {"x": {"field": "group", "type": "nominal"}, "y": {"field": "upper", "type": "quantitative"}}}
    ]},
   {"data": {"values": [{"from": "Normal", "to": "Infection", "level": 129, "label": "ns"}]},
    "layer": [
     {"mark": {"type": "rule", "strokeWidth": 1, "color": "#000"}, "encoding": {"x": {"field": "from", "type": "nominal"}, "x2": {"field": "to"}, "y": {"field": "level", "type": "quantitative"}}},
     {"mark": {"type": "text", "baseline": "bottom", "dy": -3, "fontSize": 10.5}, "encoding": {"x": {"field": "from", "type": "nominal", "bandPosition": 1.0}, "y": {"field": "level", "type": "quantitative"}, "text": {"field": "label"}}}
    ]}
  ]
 },
 {"width": 72, "height": 1, "data": {"values": []}, "mark": "point"},
 {
  "width": 143, "height": 148,
  "view": {"stroke": "#333", "strokeWidth": 1.2},
  "title": {"text": "(G)", "dx": -20, "dy": 6},
  "resolve": {"scale": {"y": "independent"}, "axis": {"x": "independent", "y": "independent"}},
  "layer": [
   {"data": {"values": [{"cd1d": 0, "count": 0.005}, {"cd1d": 1.2, "count": 0.01}, {"cd1d": 4.7, "count": 0.1}, {"cd1d": 8.2, "count": 0.35}, {"cd1d": 10.5, "count": 0.52}, {"cd1d": 12.9, "count": 0.66}, {"cd1d": 14, "count": 0.74}, {"cd1d": 15.2, "count": 0.78}, {"cd1d": 16.8, "count": 0.73}, {"cd1d": 18.7, "count": 0.63}, {"cd1d": 22.2, "count": 0.45}, {"cd1d": 26.9, "count": 0.24}, {"cd1d": 31.5, "count": 0.1}, {"cd1d": 36, "count": 0.03}, {"cd1d": 42, "count": 0.01}, {"cd1d": 50, "count": 0.005}, {"cd1d": 100, "count": 0.005}]},
    "mark": {"type": "area", "interpolate": "monotone", "fill": "#F8B57C", "stroke": "#F8B57C", "strokeWidth": 1, "strokeOpacity": 0.55},
    "encoding": {
     "x": {"field": "cd1d", "type": "quantitative", "scale": {"domain": [0, 100], "nice": false, "zero": false}, "axis": {"orient": "top", "title": "Gate on CD19⁺ cells", "labels": false, "ticks": false, "domain": false, "titlePadding": 5, "titleFontSize": 11}},
     "y": {"field": "count", "type": "quantitative", "scale": {"domain": [0, 1], "range": [48, 0], "nice": false}, "axis": {"orient": "right", "title": "Infection", "titleColor": "#F5A24C", "titleAngle": 270, "titleBaseline": "top", "titleFontSize": 11, "labels": false, "ticks": false, "domain": false, "titlePadding": 9}}}},
   {"data": {"values": [{"cd1d": 0, "count": 0.1}, {"cd1d": 1, "count": 0.03}, {"cd1d": 2.3, "count": 0.03}, {"cd1d": 7, "count": 0.17}, {"cd1d": 11.7, "count": 0.34}, {"cd1d": 15.2, "count": 0.52}, {"cd1d": 18.7, "count": 0.66}, {"cd1d": 21, "count": 0.72}, {"cd1d": 23.4, "count": 0.74}, {"cd1d": 25, "count": 0.72}, {"cd1d": 26.9, "count": 0.7}, {"cd1d": 29.2, "count": 0.52}, {"cd1d": 32.7, "count": 0.28}, {"cd1d": 37.4, "count": 0.07}, {"cd1d": 42, "count": 0.01}, {"cd1d": 50, "count": 0.005}, {"cd1d": 100, "count": 0.005}]},
    "mark": {"type": "area", "interpolate": "monotone", "fill": "#3CC8F0", "stroke": "#3CC8F0", "strokeWidth": 1, "strokeOpacity": 0.55},
    "encoding": {
     "x": {"field": "cd1d", "type": "quantitative", "axis": null},
     "y": {"field": "count", "type": "quantitative", "scale": {"domain": [0, 1], "range": [96, 48], "nice": false}, "axis": {"orient": "right", "title": "Normal", "titleColor": "#2EC3EE", "titleAngle": 270, "titleBaseline": "top", "titleFontSize": 11, "labels": false, "ticks": false, "domain": false, "titlePadding": 9}}}},
   {"data": {"values": [{"cd1d": 0, "count": 0}, {"cd1d": 4, "count": 0.01}, {"cd1d": 4.7, "count": 0.03}, {"cd1d": 6.5, "count": 0.35}, {"cd1d": 8.2, "count": 0.74}, {"cd1d": 9.3, "count": 0.81}, {"cd1d": 10.5, "count": 0.68}, {"cd1d": 12.1, "count": 0.35}, {"cd1d": 15.2, "count": 0.13}, {"cd1d": 18.7, "count": 0.05}, {"cd1d": 22, "count": 0.01}, {"cd1d": 28, "count": 0}, {"cd1d": 100, "count": 0}]},
    "mark": {"type": "area", "interpolate": "monotone", "fill": "#BEBEBE", "stroke": "#9A9A9A", "strokeWidth": 1},
    "encoding": {
     "x": {"field": "cd1d", "type": "quantitative", "axis": {"orient": "bottom", "values": [1, 3, 5.4, 7, 7.6, 8.2, 8.8, 9.4, 12.5, 17.2, 23.1, 26.5, 28.9, 30.8, 32.4, 33.7, 34.8, 35.8, 36.7, 42.6, 46, 48.4, 50.3, 51.9, 53.2, 54.3, 55.3, 56.2, 62.1, 65.5, 67.9, 69.8, 71.4, 72.7, 73.8, 74.8, 75.7, 81.6, 85, 87.4, 89.3, 90.9, 92.2, 93.3, 94.3, 95.2], "labels": false, "domain": false, "tickColor": "#333", "tickWidth": 1, "tickSize": {"condition": {"test": "indexof([8.2,17.2,36.7,56.2,75.7,95.2], datum.value) >= 0", "value": 4}, "value": 2.5}, "title": "CD1d", "titleAnchor": "start", "titlePadding": 0, "titleFontSize": 11}},
     "y": {"field": "count", "type": "quantitative", "scale": {"domain": [0, 1], "range": [148, 96], "nice": false}, "axis": {"orient": "left", "title": "Cell counts", "titleAnchor": "start", "labels": false, "ticks": false, "domain": false, "titlePadding": 11, "titleFontSize": 11}}}},
   {"data": {"values": [{}]},
    "mark": {"type": "rule", "color": "#333", "strokeWidth": 1},
    "encoding": {"y": {"datum": 0, "type": "quantitative", "scale": {"domain": [0, 1], "range": [148, 96], "nice": false}, "axis": {"orient": "right", "title": "Isotype", "titleAngle": 270, "titleBaseline": "top", "titleFontSize": 11, "labels": false, "ticks": false, "domain": false, "titlePadding": 9}}}},
   {"data": {"values": [{}]}, "mark": {"type": "rule", "color": "#000", "strokeWidth": 1},
    "encoding": {"x": {"datum": -10.5, "type": "quantitative", "scale": {"domain": [0, 100]}, "axis": null}, "y": {"datum": 0.46, "type": "quantitative", "scale": {"domain": [0, 1], "range": [148, 0], "nice": false}, "axis": null}, "y2": {"datum": 0.995}}},
   {"data": {"values": [{}]}, "mark": {"type": "point", "shape": "M-1,1.5L0,0L1,1.5", "filled": false, "stroke": "#000", "strokeWidth": 1, "size": 40, "opacity": 1},
    "encoding": {"x": {"datum": -10.5, "type": "quantitative", "scale": {"domain": [0, 100]}, "axis": null}, "y": {"datum": 0.995, "type": "quantitative", "scale": {"domain": [0, 1], "range": [148, 0], "nice": false}, "axis": null}}},
   {"data": {"values": [{}]}, "mark": {"type": "rule", "color": "#000", "strokeWidth": 1},
    "encoding": {"x": {"datum": 19.6, "type": "quantitative", "scale": {"domain": [0, 100]}, "axis": null}, "x2": {"datum": 103}, "y": {"datum": -0.054, "type": "quantitative", "scale": {"domain": [0, 1], "range": [148, 0], "nice": false}, "axis": null}}},
   {"data": {"values": [{}]}, "mark": {"type": "point", "shape": "M-1.5,-1L0,0L-1.5,1", "filled": false, "stroke": "#000", "strokeWidth": 1, "size": 40, "opacity": 1},
    "encoding": {"x": {"datum": 103, "type": "quantitative", "scale": {"domain": [0, 100]}, "axis": null}, "y": {"datum": -0.054, "type": "quantitative", "scale": {"domain": [0, 1], "range": [148, 0], "nice": false}, "axis": null}}}
  ]
 },
 {"width": 90, "height": 1, "data": {"values": []}, "mark": "point"},
 {
  "width": 75, "height": 110,
  "layer": [
   {"data": {"values": [{"group": "Normal", "mean": 255, "upper": 262}, {"group": "Infection", "mean": 147, "upper": 158}]},
    "layer": [
     {"mark": {"type": "bar", "stroke": "#000", "strokeWidth": 1.8},
      "encoding": {
       "x": {"field": "group", "type": "nominal", "scale": {"domain": ["Normal", "Infection"], "paddingInner": 0.32, "paddingOuter": 0.15, "align": 0.5}, "axis": {"title": null, "labelAngle": -45}},
       "y": {"field": "mean", "type": "quantitative", "scale": {"domain": [0, 280], "range": [110, 3], "nice": false}, "axis": {"values": [0, 70, 140, 210, 280], "tickCount": 10, "labelExpr": "datum.value == 210 ? '220' : datum.label", "title": ["CD1d MFI", "(Gate on CD19⁺ cells)"]}},
       "fill": {"field": "group", "type": "nominal", "scale": {"domain": ["Normal", "Infection"], "range": ["#ffffff", "#000000"]}, "legend": null}}},
     {"mark": {"type": "rule", "strokeWidth": 1.8, "color": "#000"}, "encoding": {"x": {"field": "group", "type": "nominal"}, "y": {"field": "mean", "type": "quantitative"}, "y2": {"field": "upper"}}},
     {"mark": {"type": "tick", "thickness": 1.8, "size": 17, "color": "#000"}, "encoding": {"x": {"field": "group", "type": "nominal"}, "y": {"field": "upper", "type": "quantitative"}}}
    ]},
   {"data": {"values": [{"from": "Normal", "to": "Infection", "level": 282, "label": "***"}]},
    "layer": [
     {"mark": {"type": "rule", "strokeWidth": 1, "color": "#000"}, "encoding": {"x": {"field": "from", "type": "nominal"}, "x2": {"field": "to"}, "y": {"field": "level", "type": "quantitative"}}},
     {"mark": {"type": "text", "baseline": "bottom", "dy": -1, "fontSize": 10}, "encoding": {"x": {"field": "from", "type": "nominal", "bandPosition": 1.05}, "y": {"field": "level", "type": "quantitative"}, "text": {"field": "label"}}}
    ]}
  ]
 }
]}
]
}
